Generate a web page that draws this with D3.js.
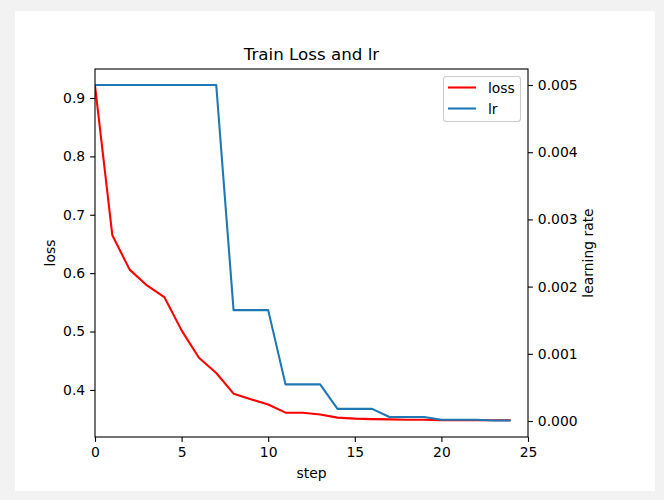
<!DOCTYPE html>
<html>
<head>
<meta charset="utf-8">
<script src="https://cdn.jsdelivr.net/npm/d3@7"></script>
<style>
  html, body { margin: 0; padding: 0; background: #f2f2f2; }
  svg { display: block; }
  text { font-family: "DejaVu Sans", sans-serif; fill: #000; }
</style>
</head>
<body>
<svg id="chart" width="664" height="500"></svg>
<script>
const steps = d3.range(0, 25);
const lossValues = [0.921, 0.665, 0.606, 0.579, 0.559, 0.502, 0.455, 0.429, 0.3935, 0.384, 0.375,
  0.361, 0.361, 0.358, 0.3525, 0.3508, 0.350, 0.3496, 0.349, 0.349, 0.348, 0.348, 0.348, 0.348, 0.348];
const lrValues = [0.005, 0.005, 0.005, 0.005, 0.005, 0.005, 0.005, 0.005,
  0.00165, 0.00165, 0.00165,
  0.000545, 0.000545, 0.000545,
  0.00018, 0.00018, 0.00018,
  0.0000593, 0.0000593, 0.0000593,
  0.0000196, 0.0000196, 0.0000196,
  0.0000065, 0.0000065];
const xTicks = [0, 5, 10, 15, 20, 25];
const lossTicks = [0.4, 0.5, 0.6, 0.7, 0.8, 0.9];
const lrTicks = [0.000, 0.001, 0.002, 0.003, 0.004, 0.005];

const svg = d3.select("#chart");
svg.append("rect").attr("x", 15).attr("y", 11).attr("width", 640).attr("height", 480).attr("fill", "#fff");

const L = 95, R = 528, T = 69, B = 437;
const x = d3.scaleLinear().domain([0, 25]).range([L, R]);
const lossExt = d3.extent(lossValues), lossPad = (lossExt[1] - lossExt[0]) * 0.05;
const yL = d3.scaleLinear().domain([lossExt[0] - lossPad, lossExt[1] + lossPad]).range([B, T]);
const lrExt = [0, d3.max(lrValues)], lrPad = (lrExt[1] - lrExt[0]) * 0.0476;
const yR = d3.scaleLinear().domain([lrExt[0] - lrPad, lrExt[1] + lrPad]).range([B, T]);

const fs = 13.9, tk = 4.9;

// lines
const lossLine = d3.line().x((d, i) => x(steps[i])).y(d => yL(d));
const lrLine = d3.line().x((d, i) => x(steps[i])).y(d => yR(d));
const clip = svg.append("clipPath").attr("id", "c").append("rect")
  .attr("x", L).attr("y", T).attr("width", R - L).attr("height", B - T);
svg.append("path").datum(lossValues).attr("d", lossLine).attr("fill", "none")
  .attr("stroke", "#ff0000").attr("stroke-width", 2.08).attr("stroke-linejoin", "round").attr("clip-path", "url(#c)");
svg.append("path").datum(lrValues).attr("d", lrLine).attr("fill", "none")
  .attr("stroke", "#1f77b4").attr("stroke-width", 2.08).attr("stroke-linejoin", "round").attr("clip-path", "url(#c)");

// axes
function style(g) {
  g.select(".domain").remove();
  g.selectAll(".tick line").attr("stroke", "#000").attr("stroke-width", 1.1);
  g.selectAll(".tick text").attr("font-size", fs).attr("font-family", "DejaVu Sans");
}
svg.append("g").attr("transform", `translate(0,${B})`)
  .call(d3.axisBottom(x).tickValues(xTicks).tickFormat(d3.format("d")).tickSize(tk).tickPadding(tk))
  .call(style);
svg.append("g").attr("transform", `translate(${L},0)`)
  .call(d3.axisLeft(yL).tickValues(lossTicks).tickFormat(d3.format(".1f")).tickSize(tk).tickPadding(tk))
  .call(style);
svg.append("g").attr("transform", `translate(${R},0)`)
  .call(d3.axisRight(yR).tickValues(lrTicks).tickFormat(d3.format(".3f")).tickSize(tk).tickPadding(tk))
  .call(style);

// frame
svg.append("rect").attr("x", L).attr("y", T).attr("width", R - L).attr("height", B - T)
  .attr("fill", "none").attr("stroke", "#000").attr("stroke-width", 1.1);

// labels
svg.append("text").attr("x", (L + R) / 2).attr("y", 60).attr("text-anchor", "middle")
  .attr("font-size", 16.7).text("Train Loss and lr");
svg.append("text").attr("x", (L + R) / 2).attr("y", 478).attr("text-anchor", "middle")
  .attr("font-size", fs).text("step");
svg.append("text").attr("transform", `translate(55,${(T + B) / 2}) rotate(-90)`).attr("text-anchor", "middle")
  .attr("font-size", fs).text("loss");
svg.append("text").attr("transform", `translate(593,${(T + B) / 2}) rotate(-90)`).attr("text-anchor", "middle")
  .attr("font-size", fs).text("learning rate");

// legend
const lg = svg.append("g");
lg.append("rect").attr("x", 443.5).attr("y", 76.5).attr("width", 77).attr("height", 45).attr("rx", 3)
  .attr("fill", "#fff").attr("fill-opacity", 0.8).attr("stroke", "#cccccc").attr("stroke-width", 1.1);
const entries = [{ name: "loss", color: "#ff0000" }, { name: "lr", color: "#1f77b4" }];
entries.forEach((e, i) => {
  const cy = 87.5 + i * 21;
  lg.append("line").attr("x1", 448).attr("x2", 476).attr("y1", cy).attr("y2", cy)
    .attr("stroke", e.color).attr("stroke-width", 2.08);
  lg.append("text").attr("x", 488).attr("y", cy + 5).attr("font-size", fs).text(e.name);
});
</script>
</body>
</html>
